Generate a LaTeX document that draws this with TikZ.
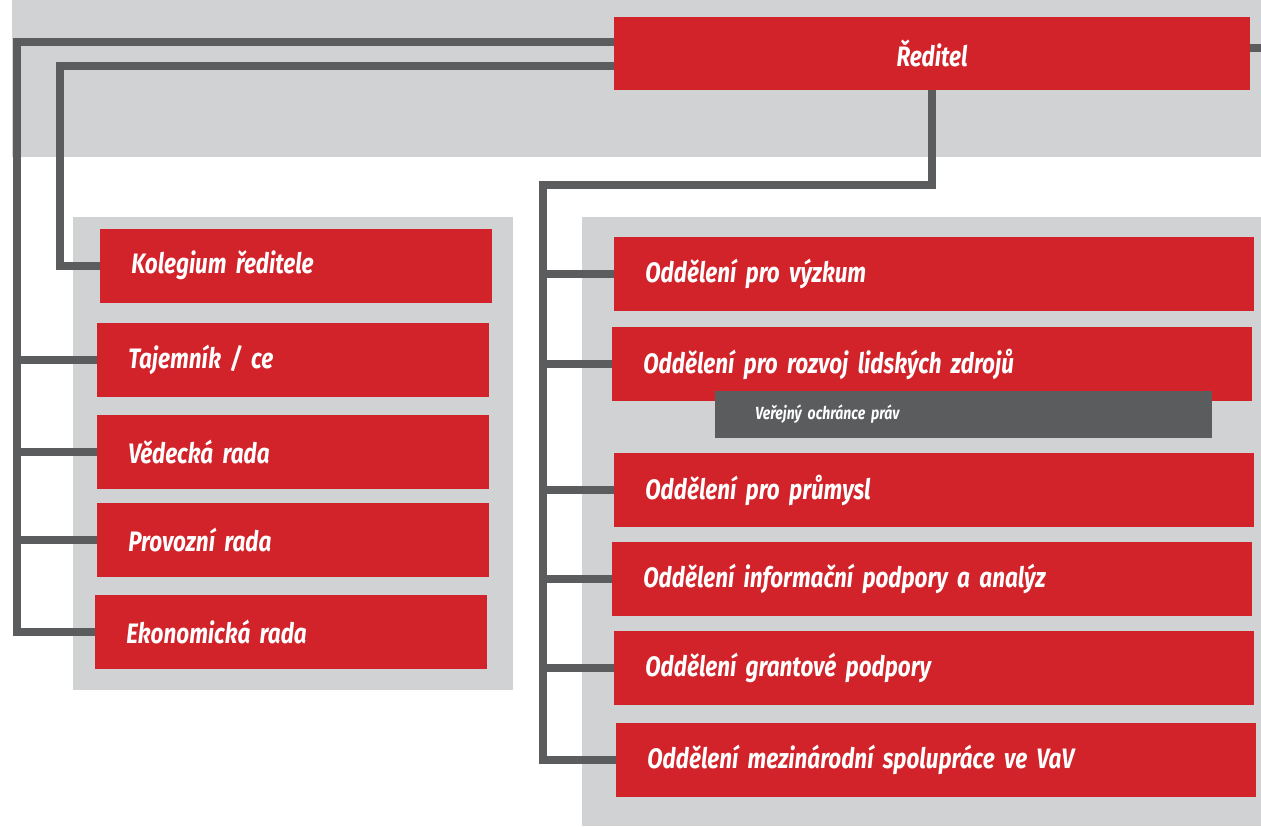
\documentclass[tikz,border=0pt]{standalone}
\usepackage{fontspec}
\newfontfamily\boxfont[FakeStretch=0.8]{Fira Sans}
\newcommand\bigboxfont{\boxfont\bfseries\itshape\fontsize{16}{18}\selectfont\spaceskip 0.2em\relax}
\newcommand\smallboxfont{\boxfont\bfseries\itshape\fontsize{10}{11}\selectfont\spaceskip 0.2em\relax}
\definecolor{boxred}{HTML}{D2232A}
\definecolor{panelgrey}{HTML}{D1D2D4}
\definecolor{linegrey}{HTML}{5B5C5E}
\begin{document}
\begin{tikzpicture}[x=0.02cm, y=-0.02cm,
	box/.style={fill=boxred, text=white, inner xsep=0.62cm, inner ysep=0pt, minimum height=1.48cm, align=left, anchor=west, font=\bigboxfont},
	leftbox/.style={box, text width=6.6cm},
	rightbox/.style={box, text width=11.56cm},
	conn/.style={draw=linegrey, line width=0.16cm}]

				\useasboundingbox (0,0) rectangle (1261,826);
				\fill[panelgrey] (12,0) rectangle (1261,157);
				\fill[panelgrey] (73,217) rectangle (513,690);
				\fill[panelgrey] (582,217) rectangle (1261,826);

				\node[box, anchor=center, minimum width=12.72cm, minimum height=1.46cm, align=center] (reditel) at (932,53.5) {Ředitel};

				\node[leftbox] (kolegium) at (100,265.5) {Kolegium ředitele};
				\node[leftbox] (tajemnik) at (97,360) {Tajemník / ce};
				\node[leftbox] (vedecka) at (97,452) {Vědecká rada};
				\node[leftbox] (provozni) at (97,540) {Provozní rada};
				\node[leftbox] (ekonomicka) at (95,632) {Ekonomická rada};

				\node[rightbox] (vyzkum) at (614,274) {Oddělení pro výzkum};
				\node[rightbox] (rozvoj) at (612,364) {Oddělení pro rozvoj lidských zdrojů};
				\node[fill=linegrey, text=white, anchor=west, minimum width=9.94cm, minimum height=0.94cm, inner xsep=0.8cm, text width=8.34cm, align=left, font=\smallboxfont] (ochrance) at (715,414.5) {Veřejný ochránce práv};
				\node[rightbox] (prumysl) at (614,490) {Oddělení pro průmysl};
				\node[rightbox] (informacni) at (612,578.5) {Oddělení informační podpory a analýz};
				\node[rightbox] (grantove) at (614,668) {Oddělení grantové podpory};
				\node[rightbox] (mezinarodni) at (616,760) {Oddělení mezinárodní spolupráce ve VaV};

				\coordinate (outer) at (17,42);
				\coordinate (inner) at (60,66);
				\coordinate (depts) at (543,185);
				\coordinate (edge) at (1261,48);

				\draw[conn] (reditel.west |- outer) -- (outer) |- (ekonomicka.west);
				\draw[conn] (outer |- tajemnik.west) -- (tajemnik.west);
				\draw[conn] (outer |- vedecka.west) -- (vedecka.west);
				\draw[conn] (outer |- provozni.west) -- (provozni.west);
				\draw[conn] (reditel.west |- inner) -- (inner) |- (kolegium.west);
				\draw[conn] (reditel.east |- edge) -- (edge);
				\draw[conn] (reditel.south) |- (depts) |- (mezinarodni.west);
				\draw[conn] (depts |- vyzkum.west) -- (vyzkum.west);
				\draw[conn] (depts |- rozvoj.west) -- (rozvoj.west);
				\draw[conn] (depts |- prumysl.west) -- (prumysl.west);
				\draw[conn] (depts |- informacni.west) -- (informacni.west);
				\draw[conn] (depts |- grantove.west) -- (grantove.west);

			\end{tikzpicture}
\end{document}
